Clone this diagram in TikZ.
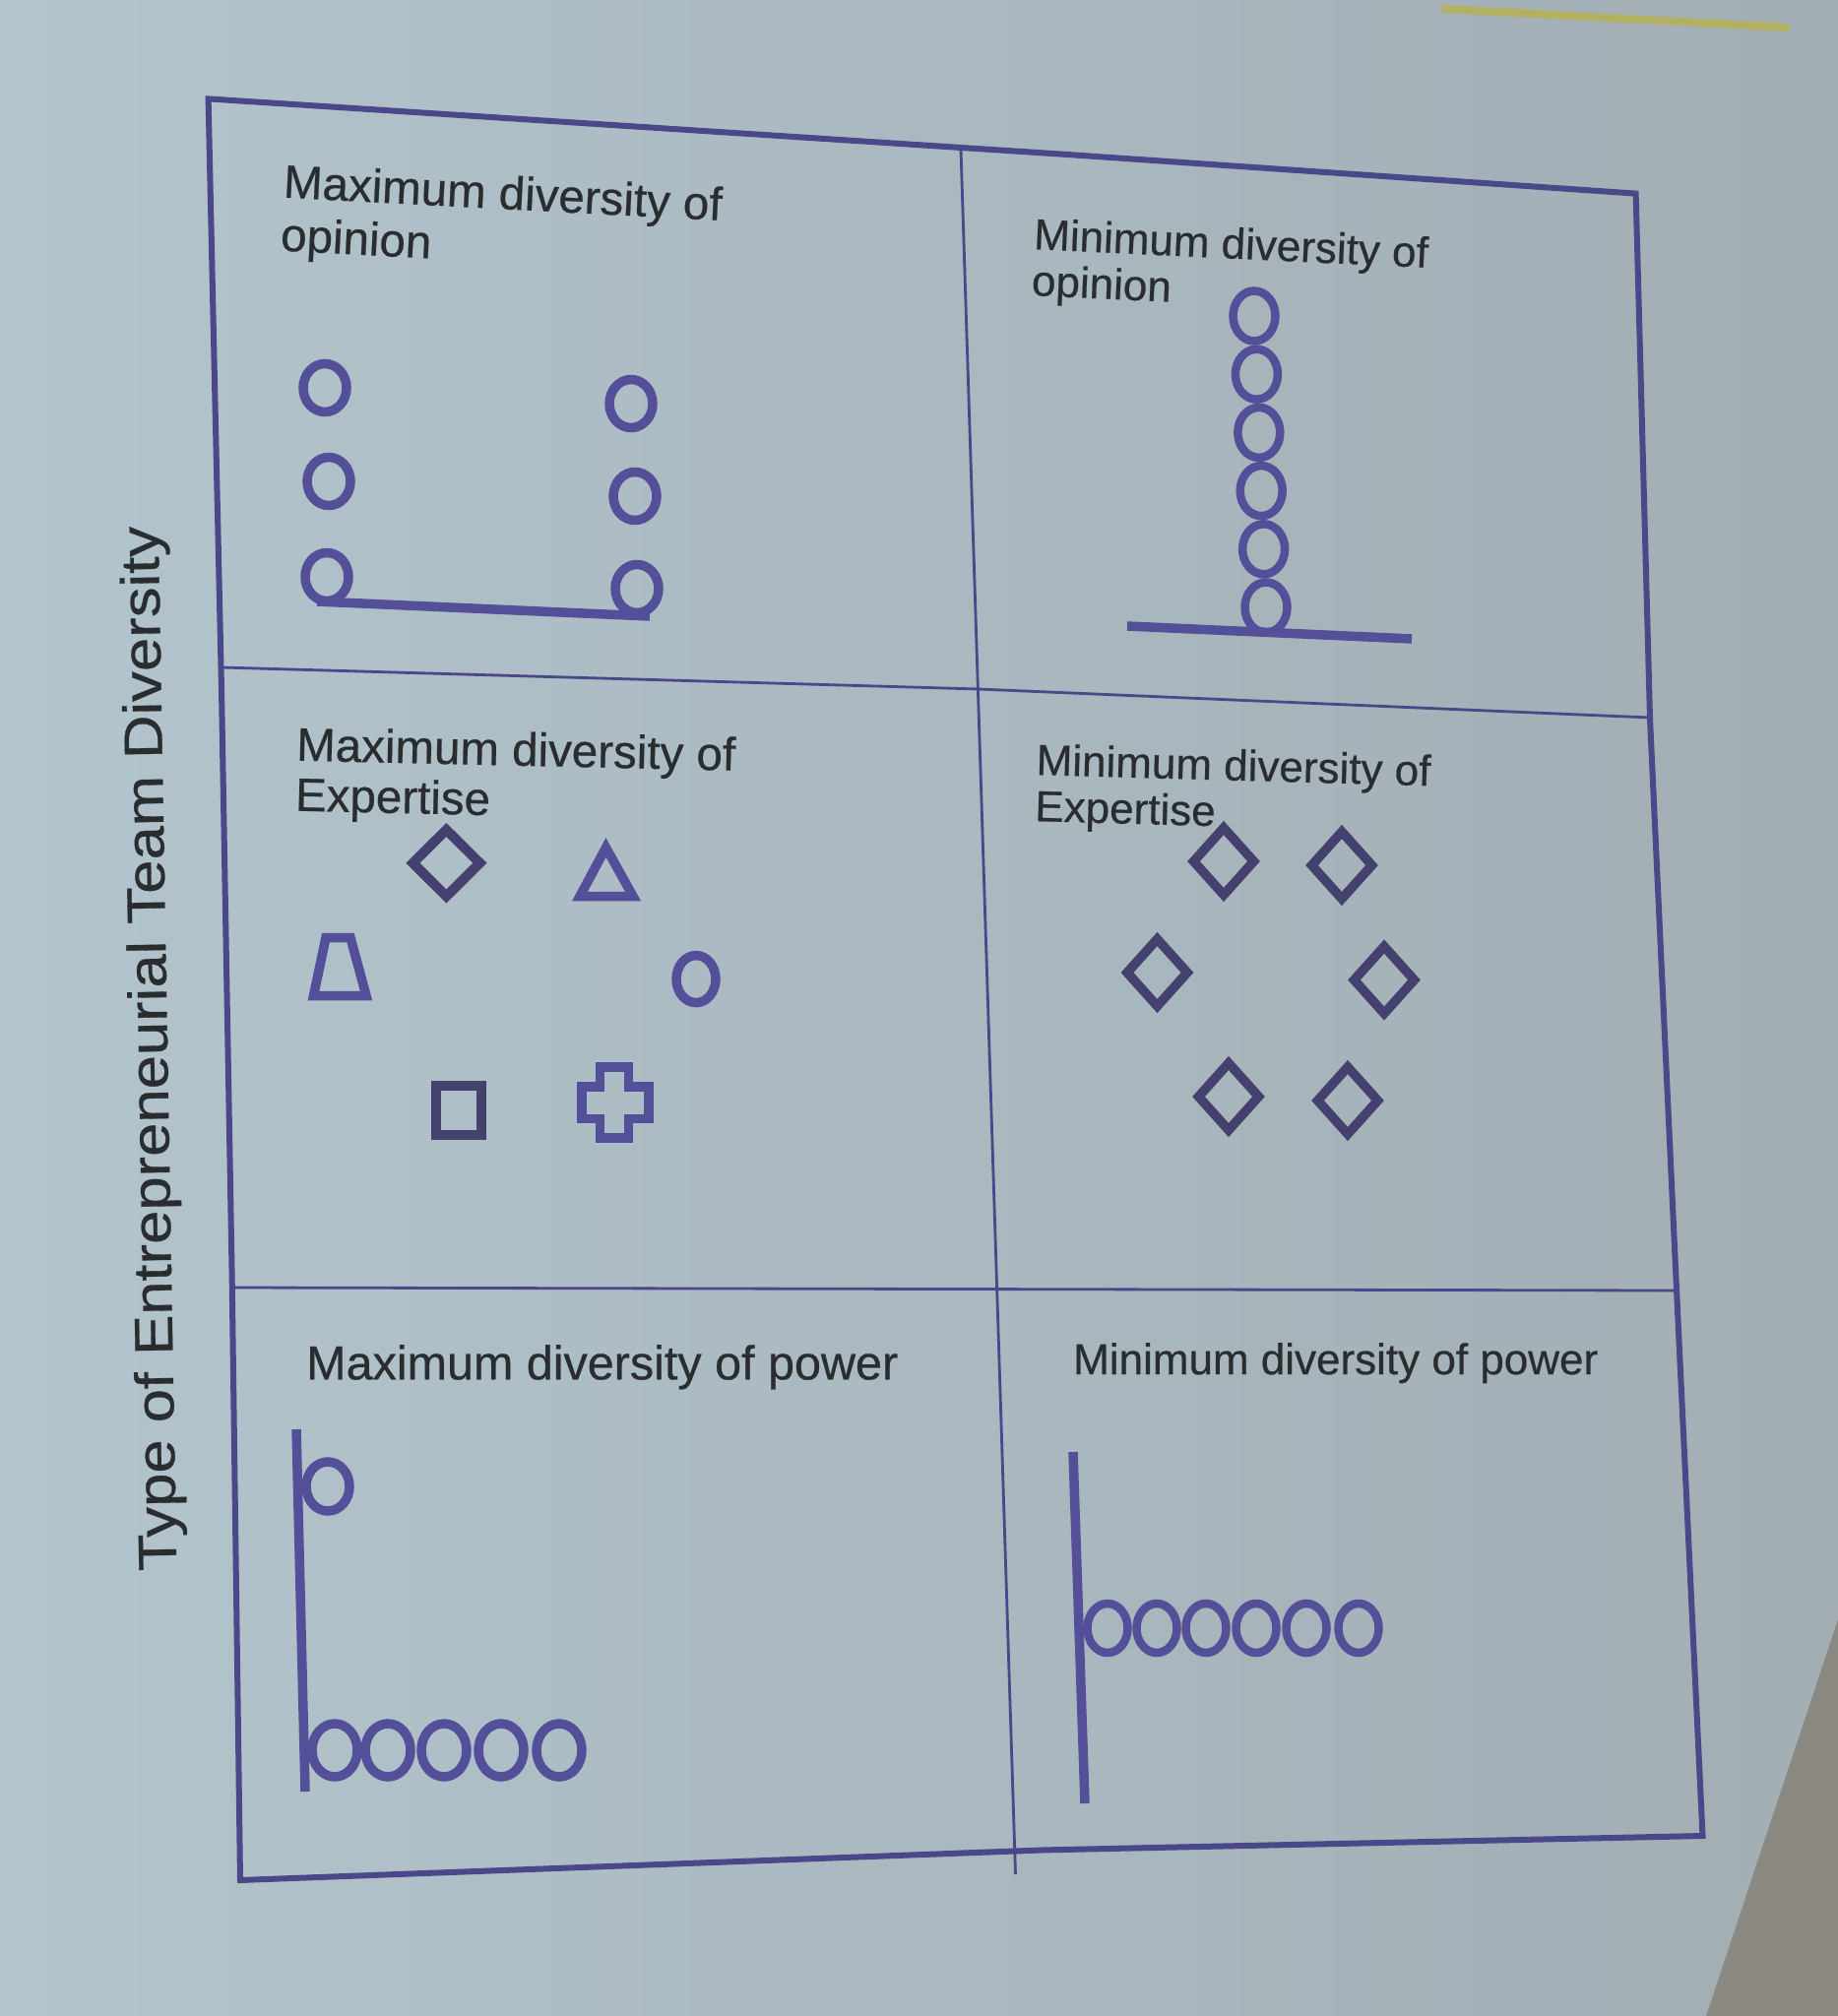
\documentclass[tikz,border=0pt]{standalone}
\usepackage{fontspec}
\setmainfont{Liberation Sans}
\newfontfamily\capfont{Liberation Sans}[FakeBold=0.5]
\definecolor{bgleft}{HTML}{B2C4CD}
\definecolor{bgright}{HTML}{A2ADB3}
\definecolor{wedge}{HTML}{8C8983}
\definecolor{tape}{HTML}{B4B062}
\definecolor{framecol}{HTML}{4A4889}
\definecolor{shapecol}{HTML}{534F98}
\definecolor{darkshape}{HTML}{45416E}
\definecolor{textcol}{HTML}{2A2D30}
\tikzset{
  frame/.style={draw=framecol, line width=6pt, line join=miter},
  divider/.style={draw=framecol, line width=2.8pt},
  glyph/.style={draw=shapecol, line width=9.5pt, line join=miter},
  darkglyph/.style={glyph, draw=darkshape},
  bar/.style={draw=shapecol, line width=9.5pt},
  label/.style={text=textcol, anchor=north west, inner sep=0pt, align=left},
  leftfont/.style={font=\capfont\fontsize{47.5}{54}\selectfont},
  rightfont/.style={font=\capfont\fontsize{44}{47}\selectfont},
}
\begin{document}
\begin{tikzpicture}[x=1pt,y=-1pt]
\useasboundingbox (0,0) rectangle (1867,2048);
% projected slide background, lighter towards the left
\foreach \i in {0,...,39}{
  \pgfmathsetmacro{\p}{100-2.5*\i}
  \fill[bgleft!\p!bgright] ({46.675*\i},0) rectangle ({46.675*(\i+1)+1},2048);
}
\fill[wedge] (1867,1645) -- (1733,2048) -- (1867,2048) -- cycle;
\draw[tape, line width=8pt] (1465,9) -- (1817,28);

% outer frame of the table
\draw[frame] (211.6,100.4) -- (1080,156.7) -- (1661.6,196.6) -- (1676,730)
  -- (1703,1310) -- (1729.5,1865) -- (1060,1879.4) -- (244,1910)
  -- (235.7,1300) -- (225,700) -- cycle;
% cell dividers
\coordinate (vtop) at (976,151);
\coordinate (vbot) at (1031.5,1904);
\draw[divider] (vtop) -- (vbot);
\coordinate (h1l) at (226,678);
\coordinate (h1m) at (994,700);
\coordinate (h1r) at (1676,729);
\draw[divider] (h1l) -- (h1m) -- (h1r);
\coordinate (h2l) at (236,1308);
\coordinate (h2r) at (1703,1311);
\draw[divider] (h2l) -- (h2r);

% side caption
\node[rotate=91, anchor=base, text=textcol, inner sep=0pt,
  font=\capfont\fontsize{55}{55}\selectfont] (axis) at (170,1065)
  {\scalebox{1.12}[1]{Type of Entrepreneurial Team Diversity}};

% cell captions
\node[label, leftfont, rotate=-3] (c1) at (289,166)
  {Maximum diversity of\\opinion};
\node[label, rightfont, rotate=-2.7] (c2) at (1051,221)
  {Minimum diversity of\\opinion};
\node[label, rotate=-1.3, font=\capfont\fontsize{47.5}{51}\selectfont] (c3) at (301.5,738)
  {Maximum diversity of\\Expertise};
\node[label, rightfont, rotate=-1.6] (c4) at (1053,755)
  {Minimum diversity of\\Expertise};
\node[label, font=\capfont\fontsize{48.5}{52}\selectfont] (c5) at (311,1366)
  {Maximum diversity of power};
\node[label, rightfont] (c6) at (1090,1364)
  {Minimum diversity of power};

% opinion: two separated groups
\foreach \cx/\cy in {330/394, 334/489, 332/586, 641/410, 645/504, 647/598}
  \draw[glyph] (\cx,\cy) ellipse [x radius=22pt, y radius=24.5pt];
\draw[glyph] (322,611) -- (660,626);

% opinion: one stacked group
\foreach \k in {0,...,5}
  \draw[glyph, line width=8.5pt] ({1274+2.4*\k},{321+59.2*\k}) ellipse [x radius=21.5pt, y radius=25.5pt];
\draw[glyph] (1145,636) -- (1434,649);

% expertise: all different shapes
\draw[darkglyph, line width=10pt] (453.4,843) -- (487.4,876.7) -- (453.4,910.5) -- (419.4,876.7) -- cycle;
\draw[glyph] (615.5,861) -- (643,910.5) -- (589,910.5) -- cycle;
\draw[glyph] (331,952.5) -- (356,952.5) -- (372,1011.5) -- (318.5,1011.5) -- cycle;
\draw[glyph] (707,994.6) ellipse [x radius=20pt, y radius=24pt];
\draw[darkglyph] (443,1103) rectangle (489,1153);
\draw[glyph] (609.5,1084) -- (638.7,1084) -- (638.7,1104) -- (659,1104) -- (659,1136.5)
  -- (638.7,1136.5) -- (638.7,1156) -- (609.5,1156) -- (609.5,1136.5) -- (591,1136.5)
  -- (591,1104) -- (609.5,1104) -- cycle;

% expertise: all alike
\foreach \dx/\dy in {1243/875, 1363/879, 1175.5/988, 1406/995.5, 1248/1114, 1369/1118}
  \draw[darkglyph] (\dx,\dy-34) -- (\dx+30.5,\dy) -- (\dx,\dy+34) -- (\dx-30.5,\dy) -- cycle;

% power: one member above the rest
\draw[bar] (301,1452) -- (310,1820);
\draw[glyph] (333,1510) ellipse [x radius=22pt, y radius=25pt];
\foreach \cx in {340, 394, 451, 509, 568}
  \draw[glyph] (\cx,1778) ellipse [x radius=23pt, y radius=27pt];

% power: all on one level
\draw[bar] (1090,1475) -- (1102,1832);
\foreach \cx in {1125, 1175, 1225, 1276, 1327, 1380}
  \draw[glyph, line width=8.5pt] (\cx,1654) ellipse [x radius=20.5pt, y radius=25pt];
\end{tikzpicture}
\end{document}
